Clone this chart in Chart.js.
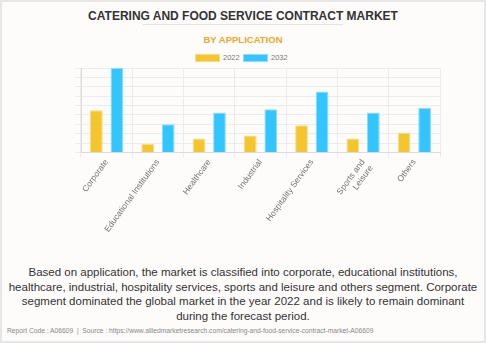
<!DOCTYPE html>
<html>
<head>
<meta charset="utf-8">
<script src="https://cdn.jsdelivr.net/npm/chart.js@4"></script>
<style>
  html, body { margin: 0; padding: 0; }
  body {
    width: 486px; height: 343px; overflow: hidden;
    background: #fdfcfb;
    font-family: "Liberation Sans", Arial, sans-serif;
    position: relative;
  }
  .frame {
    position: absolute; left: 0; top: 0; width: 482px; height: 339px;
    border: 2px solid #e6e6e6;
  }
  .title {
    position: absolute; top: 9px; left: 0; width: 486px; text-align: center;
    font-size: 12px; font-weight: bold; color: #333;
  }
  .rule {
    position: absolute; top: 24px; left: 143px; width: 200px; height: 1px; background: #e4e4e4;
  }
  .subtitle {
    position: absolute; top: 34px; left: 0; width: 486px; text-align: center;
    font-size: 9.5px; font-weight: bold; color: #f5a623;
  }
  .legend { position: absolute; top: 54px; left: 0; width: 486px; height: 10px; font-size: 7.5px; color: #777; }
  .legend span { position: absolute; top: 0; }
  .legend .box { width: 23px; height: 6px; top: 0; }
  .chart-box { position: absolute; top: 60px; left: 0; width: 486px; height: 177px; }
  .desc {
    position: absolute; top: 265px; left: 0; width: 486px; text-align: center;
    font-size: 11.5px; line-height: 14.5px; color: #333;
  }
  .footer {
    position: absolute; top: 327px; left: 7px;
    font-size: 6.7px; color: #888;
  }
</style>
</head>
<body>
<div class="frame"></div>
<div class="title">CATERING AND FOOD SERVICE CONTRACT MARKET</div>
<div class="rule"></div>
<div class="subtitle">BY APPLICATION</div>
<div class="legend" id="legend"></div>
<div class="chart-box"><canvas id="chart"></canvas></div>
<div class="desc">Based on application, the market is classified into corporate, educational institutions,<br>healthcare, industrial, hospitality services, sports and leisure and others segment. Corporate<br>segment dominated the global market in the year 2022 and is likely to remain dominant<br>during the forecast period.</div>
<div class="footer">Report Code : A06609 &nbsp;|&nbsp; Source : https://www.alliedmarketresearch.com/catering-and-food-service-contract-market-A06609</div>

<script>
const categories = ['Corporate', 'Educational Institutions', 'Healthcare', 'Industrial', 'Hospitality Services', ['Sports and', 'Leisure'], 'Others']
const seriesNames = ['2022', '2032']
const values2022 = [4.5, 0.9, 1.5, 1.8, 2.9, 1.5, 2.1]
const values2032 = [9.0, 3.0, 4.25, 4.6, 6.5, 4.25, 4.75]
const fills = ['#f5c52e', '#33c5ff']
const edges = ['#f8dc86', '#8edcff']

// legend drawn as html, from the same names/colours
const legend = document.getElementById('legend')
const legendX = [195, 243]
seriesNames.forEach((name, i) => {
  const box = document.createElement('span')
  box.className = 'box'
  box.style.left = legendX[i] + 'px'
  box.style.background = fills[i]
  box.style.border = '1px solid ' + edges[i]
  legend.appendChild(box)
  const txt = document.createElement('span')
  txt.textContent = name
  txt.style.left = (legendX[i] + 28) + 'px'
  txt.style.top = '-1px'
  legend.appendChild(txt)
})

const canvas = document.getElementById('chart')
new Chart(canvas, {
  type: 'bar',
  data: {
    labels: categories,
    datasets: [{
      label: seriesNames[0],
      data: values2022,
      backgroundColor: fills[0],
      borderColor: edges[0],
      borderWidth: 1
    }, {
      label: seriesNames[1],
      data: values2032,
      backgroundColor: fills[1],
      borderColor: edges[1],
      borderWidth: 1
    }]
  },
  options: {
    responsive: true,
    maintainAspectRatio: false,
    animation: false,
    layout: { padding: { left: 75, right: 46, top: 8, bottom: 0 } },
    plugins: {
      legend: { display: false },
      tooltip: { enabled: false }
    },
    datasets: { bar: { categoryPercentage: 0.8, barPercentage: 0.62 } },
    scales: {
      x: {
        grid: { color: '#ececec', tickLength: 5 },
        border: { color: '#dcdcdc' },
        ticks: { color: '#777', font: { size: 8.5, family: 'Liberation Sans' }, maxRotation: 54, minRotation: 54, padding: 0 }
      },
      y: {
        min: 0, max: 9,
        grid: { color: '#ececec', tickLength: 6 },
        border: { color: '#dcdcdc' },
        ticks: { display: false, stepSize: 1 }
      }
    }
  }
})
</script>
</body>
</html>
